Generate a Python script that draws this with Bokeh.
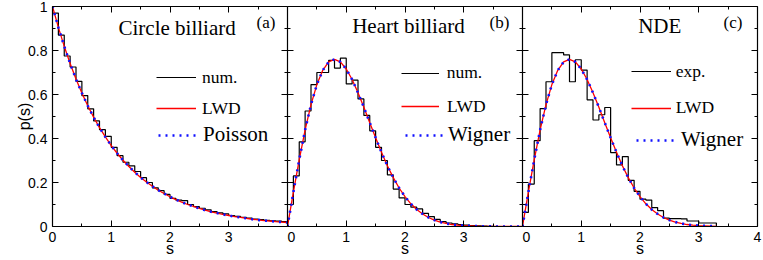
from bokeh.plotting import figure
from bokeh.layouts import row
from bokeh.models import (Range1d, FixedTicker, LinearAxis, Label, Legend,
                          LegendItem, CustomJSTickFormatter)
from bokeh.embed import file_html
from bokeh.resources import INLINE

# ---------------- data ----------------
s_grid = [round(0.1 * i, 1) for i in range(41)]
poisson = [1.000, 0.905, 0.819, 0.741, 0.670, 0.607, 0.549, 0.497, 0.449, 0.407,
           0.368, 0.333, 0.301, 0.273, 0.247, 0.223, 0.202, 0.183, 0.165, 0.150,
           0.135, 0.122, 0.111, 0.100, 0.091, 0.082, 0.074, 0.067, 0.061, 0.055,
           0.050, 0.045, 0.041, 0.037, 0.033, 0.030, 0.027, 0.025, 0.022, 0.020,
           0.018]
wigner = [0.000, 0.156, 0.304, 0.439, 0.554, 0.645, 0.710, 0.748, 0.760, 0.748,
          0.716, 0.668, 0.608, 0.542, 0.472, 0.403, 0.337, 0.276, 0.222, 0.175,
          0.136, 0.103, 0.077, 0.057, 0.041, 0.029, 0.020, 0.014, 0.009, 0.006,
          0.004, 0.003, 0.002, 0.001, 0.001, 0.000, 0.000, 0.000, 0.000, 0.000,
          0.000]
lwd_a = poisson
lwd_b = wigner
lwd_c = wigner[:34]
wigner_c = wigner[:34]

bin_width = 0.1
hist_a = [0.97, 0.87, 0.775, 0.725, 0.66, 0.595, 0.535, 0.48, 0.44, 0.41,
          0.36, 0.322, 0.292, 0.276, 0.25, 0.222, 0.2, 0.176, 0.163, 0.146,
          0.128, 0.12, 0.118, 0.1, 0.09, 0.083, 0.076, 0.068, 0.062, 0.057,
          0.05, 0.046, 0.042, 0.038, 0.034, 0.031, 0.028, 0.026, 0.024, 0.022]
hist_b = [0.10, 0.23, 0.385, 0.525, 0.645, 0.70, 0.70, 0.755, 0.72, 0.765,
          0.648, 0.665, 0.58, 0.505, 0.435, 0.36, 0.30, 0.235, 0.17, 0.13,
          0.10, 0.088, 0.08, 0.06, 0.045, 0.032, 0.022, 0.016, 0.012, 0.009,
          0.006, 0.004, 0.003, 0.002, 0.001, 0.0, 0.0, 0.0, 0.0, 0.0]
hist_c = [0.064, 0.193, 0.39, 0.536, 0.658, 0.79, 0.79, 0.78, 0.658, 0.758,
          0.711, 0.576, 0.484, 0.508, 0.541, 0.336, 0.28, 0.318, 0.21, 0.16,
          0.124, 0.12, 0.086, 0.072, 0.038, 0.036, 0.036, 0.035, 0.025, 0.025,
          0.016, 0.016, 0.016]

x_ticks_ab = [0, 1, 2, 3]
x_ticks_c = [0, 1, 2, 3, 4]
x_minor = [0.5, 1.5, 2.5, 3.5]
y_ticks = [0, 0.2, 0.4, 0.6, 0.8, 1.0]
y_minor = [0.1, 0.3, 0.5, 0.7, 0.9]

titles = ["Circle billiard", "Heart billiard", "NDE"]
tags = ["(a)", "(b)", "(c)"]
legend_labels = [["num.", "LWD", "Poisson"],
                 ["num.", "LWD", "Wigner"],
                 ["exp.", "LWD", "Wigner"]]
x_label = "s"
y_label = "p(s)"

# ---------------- style ----------------
SERIF = "Liberation Serif"
SANS = "Liberation Sans"
FRAME_W, FRAME_H = 235, 220
TOP, BOTTOM = 6, 34
HEIGHT = TOP + FRAME_H + BOTTOM
PX_X = FRAME_W / 4.0
PX_Y = FRAME_H / 1.0

fmt = CustomJSTickFormatter(code="return String(Math.round(tick*10)/10)")


def style_axis(ax, show_labels):
    ax.axis_line_color = "black"
    ax.axis_line_width = 1.2
    ax.major_tick_in = 6
    ax.major_tick_out = 0
    ax.minor_tick_in = 3
    ax.minor_tick_out = 0
    ax.major_tick_line_color = "black"
    ax.minor_tick_line_color = "black"
    ax.major_label_text_font = SANS
    ax.major_label_text_color = "black"
    ax.axis_label_text_font = SANS
    ax.axis_label_text_font_style = "normal"
    ax.axis_label_text_font_size = "16px"
    ax.axis_label_text_color = "black"
    if show_labels:
        ax.major_label_text_font_size = "14px"
        ax.major_label_standoff = 5
    else:
        ax.major_label_text_font_size = "0px"
        ax.major_label_standoff = 0


def make_panel(width, left, right, edges, hist_vals, s_curve, lwd_vals, th_vals,
               xticks, show_ylabels, title, tag, title_px, tag_px, labels, leg_px):
    p = figure(width=width, height=HEIGHT, x_range=Range1d(0, 4), y_range=Range1d(0, 1),
               output_backend="svg", toolbar_location=None,
               min_border_left=left, min_border_right=right,
               min_border_top=TOP, min_border_bottom=BOTTOM)
    p.outline_line_color = None
    p.grid.visible = False
    p.background_fill_color = "white"
    p.border_fill_color = "white"

    p.xaxis[0].ticker = FixedTicker(ticks=xticks, minor_ticks=x_minor)
    p.yaxis[0].ticker = FixedTicker(ticks=y_ticks, minor_ticks=y_minor)
    p.yaxis[0].formatter = fmt
    style_axis(p.xaxis[0], True)
    style_axis(p.yaxis[0], show_ylabels)
    p.xaxis[0].axis_label = x_label
    p.xaxis[0].axis_label_standoff = -5
    if show_ylabels:
        p.yaxis[0].axis_label = y_label
        p.yaxis[0].axis_label_standoff = -8

    top_ax = LinearAxis(ticker=FixedTicker(ticks=xticks, minor_ticks=x_minor))
    style_axis(top_ax, False)
    p.add_layout(top_ax, "above")
    right_ax = LinearAxis(ticker=FixedTicker(ticks=y_ticks, minor_ticks=y_minor))
    style_axis(right_ax, False)
    p.add_layout(right_ax, "right")

    r_hist = p.step(x=edges, y=hist_vals, mode="after", line_color="black", line_width=1.2)
    r_lwd = p.line(x=s_curve, y=lwd_vals, line_color="#ff0000", line_width=1.3)
    r_th = p.line(x=s_curve, y=th_vals, line_color="#1010ff", line_width=2.6,
                  line_dash="2 5")

    # title and tag
    p.add_layout(Label(x=title_px[0] / PX_X, y=(FRAME_H - title_px[1]) / PX_Y, text=title,
                       text_font=SERIF, text_font_size="21px", text_color="black",
                       text_align="left", text_baseline="alphabetic"))
    p.add_layout(Label(x=tag_px[0] / PX_X, y=(FRAME_H - tag_px[1]) / PX_Y, text=tag,
                       text_font=SERIF, text_font_size="17px", text_color="black",
                       text_align="left", text_baseline="alphabetic"))

    # legend: one Legend per entry (entries sit at uneven heights)
    rends = [r_hist, r_lwd, r_th]
    sizes = ["17.5px", "17.5px", "21px"]
    H = 24
    for lab, rend, size, (vx, cy, gw, so) in zip(labels, rends, sizes, leg_px):
        lg = Legend(items=[LegendItem(label=lab, renderers=[rend])],
                    location=(vx, FRAME_H - (cy + H / 2)),
                    glyph_width=gw, glyph_height=H, label_height=H,
                    label_standoff=so, padding=0, margin=0, spacing=0,
                    border_line_alpha=0, background_fill_alpha=0,
                    label_text_font=SERIF, label_text_font_size=size,
                    label_text_color="black")
        p.add_layout(lg)
    return p


edges_full = [round(bin_width * i, 1) for i in range(41)]
edges_c = [round(bin_width * i, 1) for i in range(34)]

# positions of texts within each frame (pixels from frame left / frame top)
pa = make_panel(52 + FRAME_W, 52, 0, edges_full, hist_a + [hist_a[-1]], s_grid, lwd_a, poisson,
                x_ticks_ab, True, titles[0], tags[0], (66, 21.3), (204, 16),
                legend_labels[0], [(104, 71, 40, 6), (104, 102.3, 40, 6), (106, 129, 40, 5)])
pb = make_panel(FRAME_W, 0, 0, edges_full, hist_b + [hist_b[-1]], s_grid, lwd_b, wigner,
                x_ticks_ab, False, titles[1], tags[1], (64.7, 19), (202, 16),
                legend_labels[1], [(113.7, 66.7, 38, 8), (114, 100, 38, 8), (118, 129, 38, 5)])
pc = make_panel(FRAME_W + 6, 0, 6, edges_c, hist_c + [0.0], s_grid[:34], lwd_c, wigner_c,
                x_ticks_c, False, titles[2], tags[2], (115.7, 19.7), (201, 16),
                legend_labels[2], [(108.7, 65, 40, 5), (108.7, 101.7, 40, 5), (114, 134, 40, 5)])

layout = row(pa, pb, pc)

open("out.html", "w").write(file_html(layout, INLINE))
